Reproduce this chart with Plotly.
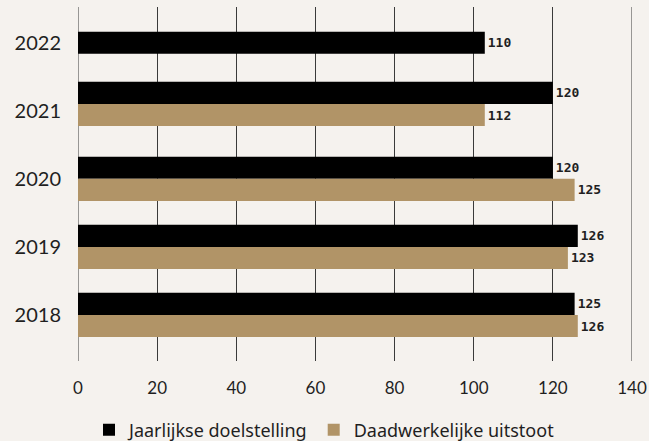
import plotly.graph_objects as go

# ---- data ----
years = ["2018", "2019", "2020", "2021", "2022"]
target_values = [125.5, 126.3, 120.0, 120.0, 102.8]          # Jaarlijkse doelstelling (bar lengths)
target_labels = ["125", "126", "120", "120", "110"]
actual_values = [126.3, 123.8, 125.5, 102.8, None]           # Daadwerkelijke uitstoot (bar lengths)
actual_labels = ["126", "123", "125", "112", ""]
x_ticks = [0, 20, 40, 60, 80, 100, 120, 140]

# ---- style ----
BG = "#F5F2EE"
BLACK = "#000000"
GOLD = "#B19467"
TEXT = "#1f1f1f"
GRID = "#3a3a3a"
BAR_W = 0.325
GROUP_SHIFT = {"2021": 0.1}
LABEL_FONT = dict(family="DejaVu Sans Mono, monospace", size=13, color=TEXT, weight="bold")
MAIN_FONT = "Lato, 'Noto Sans', sans-serif"
LEGEND_FONT = "'Noto Sans', Lato, sans-serif"

target_offsets, actual_offsets = [], []
for y, a in zip(years, actual_values):
    s = GROUP_SHIFT.get(y, 0.0)
    if a is None:
        target_offsets.append(-BAR_W / 2 + s)
    else:
        target_offsets.append(0.0 + s)
    actual_offsets.append(-BAR_W + s)

fig = go.Figure()
fig.add_trace(go.Bar(
    y=years, x=target_values, orientation="h", name="Jaarlijkse doelstelling",
    marker=dict(color=BLACK, line=dict(width=0)),
    width=BAR_W, offset=target_offsets,
    text=target_labels, textposition="outside", textfont=LABEL_FONT,
    cliponaxis=False, hoverinfo="skip",
))
fig.add_trace(go.Bar(
    y=years, x=actual_values, orientation="h", name="Daadwerkelijke uitstoot",
    marker=dict(color=GOLD, line=dict(width=0)),
    width=BAR_W, offset=actual_offsets,
    text=actual_labels, textposition="outside", textfont=LABEL_FONT,
    cliponaxis=False, hoverinfo="skip",
))

# gridlines at the axis edges (plotly hides grid lines lying on the plot edge)
for t in (x_ticks[0], x_ticks[-1]):
    fig.add_shape(type="line", xref="x", yref="paper", x0=t, x1=t, y0=0, y1=1,
                  line=dict(color=GRID, width=1), layer="below")

fig.update_layout(
    width=649, height=441,
    paper_bgcolor=BG, plot_bgcolor=BG,
    barmode="overlay",
    margin=dict(l=78, r=17, t=7, b=80, autoexpand=False),
    font=dict(family=MAIN_FONT, color=TEXT),
    showlegend=True,
    legend=dict(
        orientation="h", xref="container", x=0.5, xanchor="center",
        yref="container", y=0.025, yanchor="middle",
        font=dict(family=LEGEND_FONT, size=18, color=TEXT),
        bgcolor="rgba(0,0,0,0)", traceorder="normal",
        itemwidth=30,
    ),
    xaxis=dict(
        range=[0, 140], tickvals=x_ticks, showgrid=True, gridcolor=GRID, gridwidth=1,
        zeroline=False, showline=False, tickfont=dict(size=17, family=MAIN_FONT, color=TEXT),
        ticklabelstandoff=15, fixedrange=True, automargin=False,
    ),
    yaxis=dict(
        type="category", categoryorder="array", categoryarray=years,
        range=[-0.676, 4.525], showgrid=False, zeroline=False, showline=False,
        tickfont=dict(size=20, family=MAIN_FONT, color=TEXT),
        ticklabelstandoff=16, fixedrange=True, automargin=False,
    ),
)

fig.write_html(
    "out.html",
    config={"displayModeBar": False, "staticPlot": True},
    post_script="document.body.style.margin='0';document.body.style.background='" + BG + "';",
)
